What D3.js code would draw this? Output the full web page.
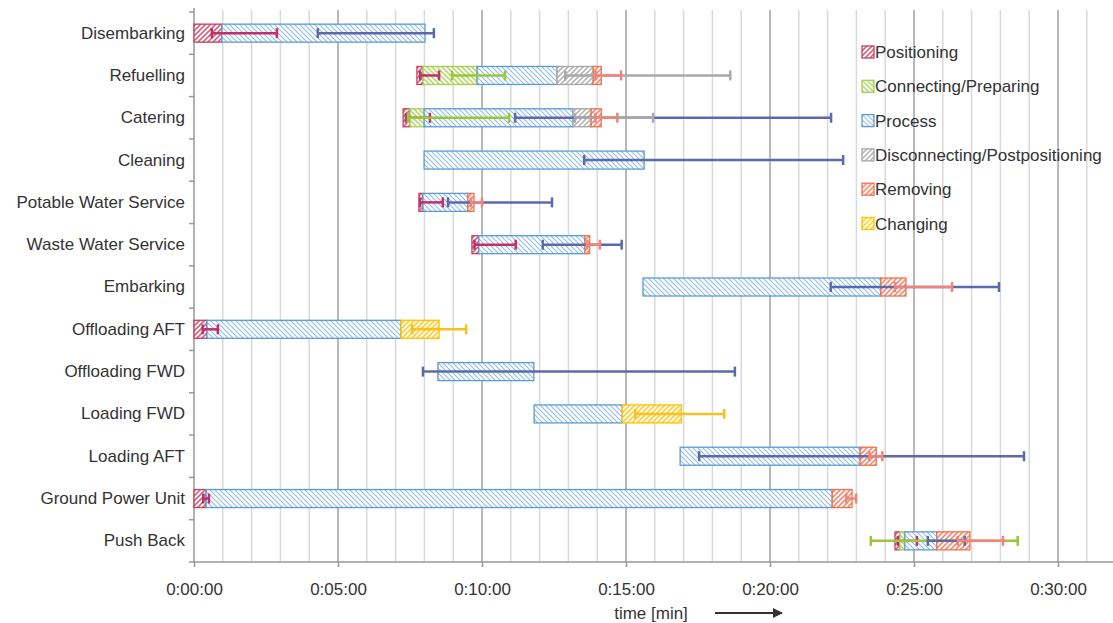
<!DOCTYPE html>
<html>
<head>
<meta charset="utf-8">
<script src="https://cdn.jsdelivr.net/npm/d3@7"></script>
<style>
  body { margin: 0; background: #fff; }
  text { font-family: "Liberation Sans", Arial, sans-serif; }
</style>
</head>
<body>
<svg id="chart" width="1113" height="623"></svg>
<script>
// ground handling processes, times in minutes
const categories = ['Disembarking', 'Refuelling', 'Catering', 'Cleaning', 'Potable Water Service',
  'Waste Water Service', 'Embarking', 'Offloading AFT', 'Offloading FWD', 'Loading FWD',
  'Loading AFT', 'Ground Power Unit', 'Push Back'];
const seriesNames = ['Positioning', 'Connecting/Preparing', 'Process', 'Disconnecting/Postpositioning', 'Removing', 'Changing'];
const startTimes = [0, 7.74, 7.26, 7.99, 7.81, 9.65, 15.59, 0, 8.47, 11.81, 16.88, 0, 24.34];

const positioning   = [0.97, 0.21, 0.24, 0, 0.14, 0.24, 0, 0.45, 0, 0, 0, 0.42, 0.17];
const connecting    = [0, 1.88, 0.49, 0, 0, 0, 0, 0, 0, 0, 0, 0, 0.17];
const processDur    = [7.05, 2.78, 5.17, 7.64, 1.56, 3.68, 8.26, 6.74, 3.33, 3.06, 6.25, 21.74, 1.11];
const disconnecting = [0, 1.25, 0.63, 0, 0, 0, 0, 0, 0, 0, 0, 0, 0];
const removing      = [0, 0.28, 0.35, 0, 0.21, 0.17, 0.87, 0, 0, 0, 0.56, 0.69, 1.15];
const changing      = [0, 0, 0, 0, 0, 0, 0, 1.32, 0, 2.05, 0, 0, 0];

// error bars (minus / plus), null = none
const posErrMinus  = [0.35, 0.1, 0.14, null, 0.1, 0.15, null, 0.15, null, null, null, 0.1, 0.07];
const posErrPlus   = [1.91, 0.56, 0.69, null, 0.69, 1.28, null, 0.38, null, null, null, 0.1, 0.59];
const connErrMinus = [null, 0.87, 0.56, null, null, null, null, null, null, null, null, null, 1.18];
const connErrPlus  = [null, 0.97, 2.95, null, null, null, null, null, null, null, null, null, 3.92];
const procErrMinus = [3.72, null, 2.01, 2.08, 0.69, 1.46, 1.74, null, 3.85, null, 5.59, null, 0.31];
const procErrPlus  = [0.31, null, 8.96, 6.91, 2.92, 1.28, 4.10, null, 6.98, null, 5.69, null, 0.97];
const discErrMinus = [null, 0.97, 0.56, null, null, null, null, null, null, null, null, null, null];
const discErrPlus  = [null, 4.76, 2.15, null, null, null, null, null, null, null, null, null, null];
const remErrMinus  = [null, 0.2, 0.2, null, 0.1, 0.1, 0.38, null, null, null, 0.24, 0.2, 0.42];
const remErrPlus   = [null, 0.69, 0.56, null, 0.28, 0.35, 1.6, null, null, null, 0.21, 0.14, 1.15];
const chgErrMinus  = [null, null, null, null, null, null, null, 0.94, null, 1.6, null, null, null];
const chgErrPlus   = [null, null, null, null, null, null, null, 0.94, null, 1.49, null, null, null];

const xTicks = [0, 5, 10, 15, 20, 25, 30];

const durations = [positioning, connecting, processDur, disconnecting, removing, changing];
const errMinus = [posErrMinus, connErrMinus, procErrMinus, discErrMinus, remErrMinus, chgErrMinus];
const errPlus = [posErrPlus, connErrPlus, procErrPlus, discErrPlus, remErrPlus, chgErrPlus];

const barColors = ['#c8405e', '#a8cf52', '#5b9bd5', '#a6a6a6', '#f0704e', '#ffc000'];
const errColors = ['#c0306e', '#98c83a', '#5c6aac', '#a8a8a8', '#f0847a', '#f8c020'];
const hatchDir = ['up', 'down', 'down', 'up', 'up', 'up'];

const plotLeft = 194, plotTop = 12, plotBottom = 562;
const svg = d3.select('#chart');

const x = d3.scaleLinear().domain([0, 32]).range([plotLeft, plotLeft + 32 * 28.8]);
const y = d3.scaleBand().domain(categories).range([plotTop, plotBottom]).paddingInner(0).paddingOuter(0);
const barH = 18;
const cy = c => y(c) + y.bandwidth() / 2;

// patterns
const defs = svg.append('defs');
seriesNames.forEach((s, i) => {
  const p = defs.append('pattern')
    .attr('id', 'pat' + i)
    .attr('patternUnits', 'userSpaceOnUse')
    .attr('width', 5).attr('height', 5);
  p.append('rect').attr('width', 5).attr('height', 5).attr('fill', '#fff');
  const up = hatchDir[i] === 'up';
  p.append('path')
    .attr('d', up ? 'M-1,6 L6,-1 M-1,1 L1,-1 M4,6 L6,4' : 'M-1,-1 L6,6 M-1,4 L1,6 M4,-1 L6,1')
    .attr('stroke', barColors[i])
    .attr('stroke-width', i === 2 ? 1.2 : 1.6)
    .attr('stroke-opacity', i === 2 ? 0.65 : 0.8);
});

// gridlines
const minutes = d3.range(0, 32);
svg.append('g').selectAll('line')
  .data(minutes.filter(m => m > 0))
  .enter().append('line')
  .attr('x1', d => x(d)).attr('x2', d => x(d))
  .attr('y1', 10).attr('y2', plotBottom)
  .attr('stroke', d => d % 5 === 0 ? '#a0a0a0' : '#d9d9d9')
  .attr('stroke-width', 1.5);

// x axis
const xAxis = svg.append('g')
  .attr('transform', `translate(0,${plotBottom})`)
  .call(d3.axisBottom(x).tickValues(xTicks).tickSize(5).tickPadding(16)
    .tickFormat(d => '0:' + String(d).padStart(2, '0') + ':00'));
xAxis.select('.domain').attr('stroke', '#999').attr('stroke-width', 1.5).attr('d', `M${plotLeft - 5},0H1113`);
xAxis.selectAll('.tick line').attr('stroke', '#999').attr('stroke-width', 1.5);
xAxis.selectAll('.tick text').attr('font-size', 17).attr('fill', '#333')
  .style('font-family', '"Liberation Sans", Arial, sans-serif');

// y axis
const yAxis = svg.append('g')
  .attr('transform', `translate(${plotLeft},0)`)
  .call(d3.axisLeft(y).tickSize(0).tickPadding(9));
yAxis.select('.domain').attr('stroke', '#999').attr('stroke-width', 1.5).attr('d', `M0,8V${plotBottom}`);
yAxis.selectAll('.tick text').attr('font-size', 17).attr('fill', '#333')
  .style('font-family', '"Liberation Sans", Arial, sans-serif');
svg.append('g').selectAll('line')
  .data(categories)
  .enter().append('line')
  .attr('x1', plotLeft - 5).attr('x2', plotLeft)
  .attr('y1', d => y(d)).attr('y2', d => y(d))
  .attr('stroke', '#999').attr('stroke-width', 1.5);

// stacked segments
const segs = [];
categories.forEach((c, r) => {
  let t = startTimes[r];
  durations.forEach((arr, s) => {
    const d = arr[r];
    if (d > 0) segs.push({ c, s, x0: t, x1: t + d });
    t += d;
  });
});

svg.append('g').selectAll('rect')
  .data(segs)
  .enter().append('rect')
  .attr('x', d => x(d.x0))
  .attr('y', d => cy(d.c) - barH / 2)
  .attr('width', d => x(d.x1) - x(d.x0))
  .attr('height', barH)
  .attr('fill', d => `url(#pat${d.s})`)
  .attr('stroke', d => barColors[d.s])
  .attr('stroke-width', 1.3);

// error bars, each at the end of its segment
const errs = [];
seriesNames.forEach((name, s) => {
  categories.forEach((c, r) => {
    if (errMinus[s][r] == null) return;
    let end = startTimes[r];
    for (let k = 0; k <= s; k++) end += durations[k][r];
    errs.push({ c, s, lo: end - errMinus[s][r], hi: end + errPlus[s][r] });
  });
});
const eg = svg.append('g').selectAll('g')
  .data(errs)
  .enter().append('g')
  .attr('stroke', d => errColors[d.s])
  .attr('stroke-width', 2.5);
eg.append('line')
  .attr('x1', d => x(d.lo)).attr('x2', d => x(d.hi))
  .attr('y1', d => cy(d.c)).attr('y2', d => cy(d.c));
eg.append('line')
  .attr('x1', d => x(d.lo)).attr('x2', d => x(d.lo))
  .attr('y1', d => cy(d.c) - 5).attr('y2', d => cy(d.c) + 5);
eg.append('line')
  .attr('x1', d => x(d.hi)).attr('x2', d => x(d.hi))
  .attr('y1', d => cy(d.c) - 5).attr('y2', d => cy(d.c) + 5);

// legend
const legend = svg.append('g').selectAll('g')
  .data(seriesNames)
  .enter().append('g')
  .attr('transform', (d, i) => `translate(862,${46 + i * 34.3})`);
legend.append('rect')
  .attr('width', 12).attr('height', 12)
  .attr('fill', (d, i) => `url(#pat${i})`)
  .attr('stroke', (d, i) => barColors[i]).attr('stroke-width', 1.3);
legend.append('text')
  .attr('x', 13).attr('y', 12)
  .attr('font-size', 17).attr('fill', '#333')
  .text(d => d);

// axis title + arrow
svg.append('text')
  .attr('x', 651).attr('y', 619)
  .attr('text-anchor', 'middle')
  .attr('font-size', 17).attr('fill', '#333')
  .text('time [min]');
defs.append('marker')
  .attr('id', 'arrow').attr('viewBox', '0 0 10 10')
  .attr('refX', 9).attr('refY', 5)
  .attr('markerWidth', 6).attr('markerHeight', 5).attr('orient', 'auto')
  .append('path').attr('d', 'M0,0L10,5L0,10z').attr('fill', '#333');
svg.append('line')
  .attr('x1', 715).attr('x2', 782).attr('y1', 613).attr('y2', 613)
  .attr('stroke', '#333').attr('stroke-width', 2)
  .attr('marker-end', 'url(#arrow)');
</script>
</body>
</html>
